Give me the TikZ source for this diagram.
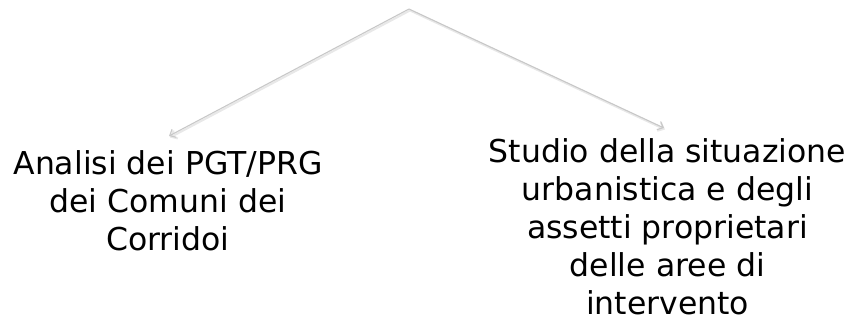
\documentclass[tikz,border=0pt]{standalone}
\usepackage{fontspec}
\setmainfont{DejaVu Sans}
\usetikzlibrary{arrows.meta}
\definecolor{linegray}{RGB}{200,200,200}
\definecolor{shadowgray}{RGB}{232,232,232}
\tikzset{
  conn/.style={draw=linegray, line width=1.1pt, -{Straight Barb[length=5pt,width=9pt]}},
  connshadow/.style={draw=shadowgray, line width=2pt, -{Straight Barb[length=5pt,width=9pt]}},
  lbl/.style={align=center, font=\fontsize{31.5}{38}\selectfont, inner sep=0pt, text=black, anchor=base}
}
\begin{document}
\begin{tikzpicture}[x=1pt,y=-1pt]
\useasboundingbox (0,0) rectangle (853,322);
\coordinate (apex) at (409,9);
\coordinate (lend) at (169,136);
\coordinate (rend) at (664,128);
\coordinate (apexs) at (410,10.5);
\coordinate (lends) at (170,137.5);
\coordinate (rends) at (665,129.5);
\node[lbl] (left) at (168,250) {Analisi dei PGT/PRG\\dei Comuni dei\\Corridoi};
\node[lbl] (right) at (667.5,314) {Studio della situazione\\urbanistica e degli\\assetti proprietari\\delle aree di\\intervento};
\draw[connshadow] (apexs) -- (lends);
\draw[connshadow] (apexs) -- (rends);
\draw[conn] (apex) -- (lend);
\draw[conn] (apex) -- (rend);
\end{tikzpicture}
\end{document}
